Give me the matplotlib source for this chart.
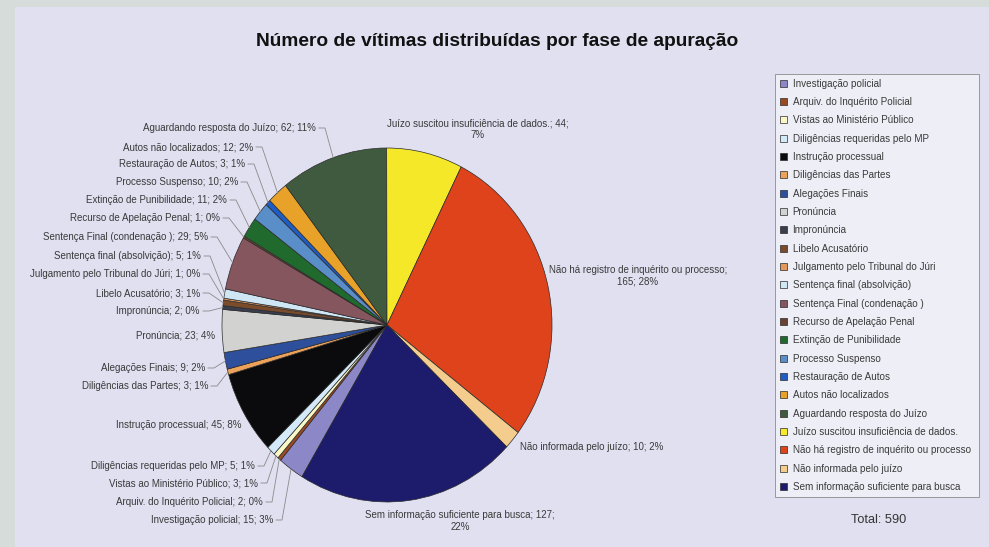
import numpy as np
import matplotlib
matplotlib.use("Agg")
import matplotlib.pyplot as plt
from matplotlib.patches import Rectangle

plt.rcParams["font.family"] = ["Liberation Sans", "DejaVu Sans"]

# phases, in legend order (data order of the series)
fases = [
    "Investigação policial", "Arquiv. do Inquérito Policial",
    "Vistas ao Ministério Público", "Diligências requeridas pelo MP",
    "Instrução processual", "Diligências das Partes", "Alegações Finais",
    "Pronúncia", "Impronúncia", "Libelo Acusatório",
    "Julgamento pelo Tribunal do Júri", "Sentença final (absolvição)",
    "Sentença Final (condenação )", "Recurso de Apelação Penal",
    "Extinção de Punibilidade", "Processo Suspenso", "Restauração de Autos",
    "Autos não localizados", "Aguardando resposta do Juízo",
    "Juízo suscitou insuficiência de dados.",
    "Não há registro de inquérito ou processo", "Não informada pelo juízo",
    "Sem informação suficiente para busca",
]
vitimas = [15, 2, 3, 5, 45, 3, 9, 23, 2, 3, 1, 5, 29, 1, 11, 10, 3, 12, 62,
           44, 165, 10, 127]
cores = [
    "#8c87c6", "#9a4a22", "#fbf8c8", "#d4eaf8", "#0b0b0d", "#eda25a",
    "#2d4f9c", "#d2d3d0", "#3a3d4c", "#7a4c2c", "#e59a5c", "#cfe6f4",
    "#86565e", "#6a4232", "#1f6a2c", "#5a8ec8", "#1f5cc4", "#e8a22a",
    "#3f5a3e", "#f4e829", "#de431b", "#f4cd8e", "#1d1b6c",
]
total = sum(vitimas)
first_slice_angle = 211  # degrees, clockwise from 12 o'clock

W, H = 989, 547
cx, cy, rx, ry = 387, 325, 165, 177

# label anchor (px), alignment, leader line
label_pos = [
    (273, 520, "right", True), (263, 502, "right", True),
    (258, 483, "right", True), (255, 466, "right", True),
    (242, 425, "right", False), (208, 386, "right", True),
    (205, 368, "right", True), (215, 335, "right", False),
    (200, 311, "right", True), (200, 293, "right", True),
    (200, 274, "right", True), (201, 256, "right", True),
    (208, 237, "right", True), (220, 218, "right", True),
    (227, 200, "right", True), (238, 182, "right", True),
    (245, 164, "right", True), (253, 147, "right", True),
    (316, 128, "right", True), (478, 129, "center", False),
    (638, 276, "center", False), (520, 447, "left", False),
    (460, 521, "center", False),
]
quebras = {19: "Juízo suscitou insuficiência de dados.; {v};\n{p}%",
           20: "Não há registro de inquérito ou processo;\n{v}; {p}%",
           22: "Sem informação suficiente para busca; {v};\n{p}%"}

fig = plt.figure(figsize=(W / 100, H / 100), dpi=100)
fig.patch.set_facecolor("#d6dcd9")
fig.patches.append(Rectangle((15 / W, 0), 1, 1 - 7 / H, transform=fig.transFigure,
                             facecolor="#e0e0f1", edgecolor="none", zorder=-5))

ax = fig.add_axes([(cx - rx) / W, 1 - (cy + ry) / H, 2 * rx / W, 2 * ry / H])
wedges, _ = ax.pie(vitimas, colors=cores, startangle=90 - first_slice_angle,
                   counterclock=False, radius=1,
                   wedgeprops=dict(edgecolor="#2b2b2b", linewidth=0.5))
ax.set_aspect("auto")
ax.set_xlim(-1, 1)
ax.set_ylim(-1, 1)

ov = fig.add_axes([0, 0, 1, 1], zorder=2)
ov.set_xlim(0, W)
ov.set_ylim(H, 0)
ov.axis("off")

ov.text(497, 42, "Número de vítimas distribuídas por fase de apuração",
        ha="center", va="center", fontsize=13.8, fontweight="bold", color="#111111")

cum = 0
for i, (nome, v) in enumerate(zip(fases, vitimas)):
    mid = np.deg2rad(first_slice_angle + 360 * (cum + v / 2) / total)
    cum += v
    p = int(100 * v / total + 0.5)
    txt = quebras.get(i, nome + "; {v}; {p}%").format(v=v, p=p)
    x, y, ha, leader = label_pos[i]
    ov.text(x, y, txt, ha=ha, va="center", fontsize=7.0, color="#3a3a3a",
            linespacing=1.2, multialignment="center")
    if leader:
        ex = cx + rx * np.sin(mid)
        ey = cy - ry * np.cos(mid)
        ov.plot([x + 3, x + 9, ex], [y, y, ey], color="#8a8a8a", lw=0.6)

leg = ov.legend(wedges, fases, loc="upper left",
                bbox_to_anchor=(775 / W, 1 - 497 / H, 204 / W, 423 / H),
                bbox_transform=fig.transFigure, mode="expand",
                fontsize=7.1, handlelength=0.7, handleheight=0.7,
                handletextpad=0.6, labelspacing=0.845, borderpad=0.48,
                borderaxespad=0, fancybox=False, framealpha=1)
leg.get_frame().set_facecolor("#eeeef7")
leg.get_frame().set_edgecolor("#8c8c8c")
leg.get_frame().set_linewidth(0.6)
for t in leg.get_texts():
    t.set_color("#3a3a3a")

ov.text(879, 520, "Total: 590", ha="center", va="center", fontsize=9.2,
        color="#333333")

fig.savefig("out.png", dpi=100)
